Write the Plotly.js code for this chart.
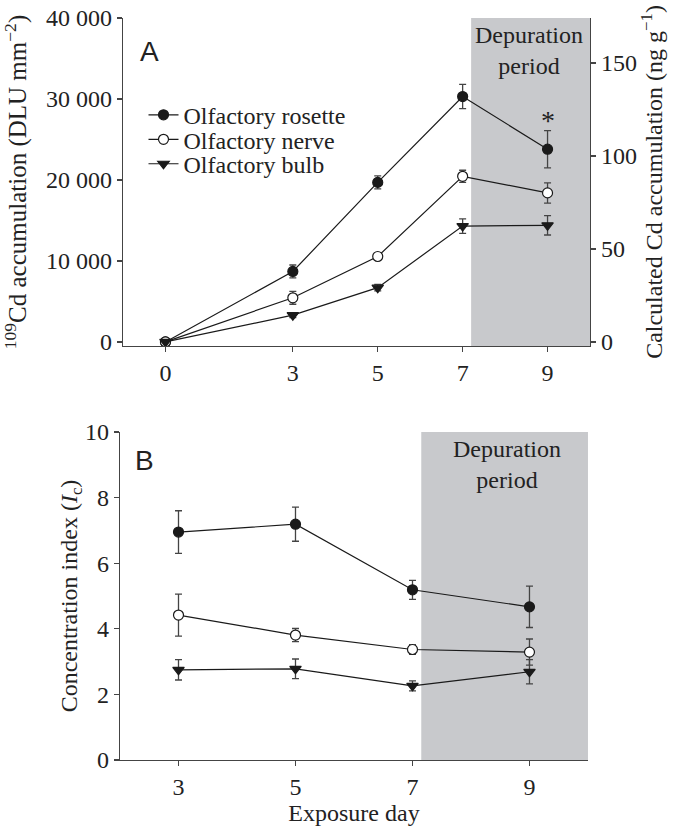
<!DOCTYPE html>
<html>
<head>
<meta charset="utf-8">
<script src="https://cdn.plot.ly/plotly-3.0.1.min.js"></script>
<style>html,body{margin:0;padding:0;background:#fff;}#chart{width:676px;height:826px;}</style>
</head>
<body>
<div id="chart"></div>
<script>
// ---- Panel A data (DLU mm^-2) ----
const daysA = [0, 3, 5, 7, 9];
const rosetteA = [0, 8700, 19700, 30300, 23800];
const rosetteAErr = [0, 800, 800, 1500, 2300];
const nerveA = [0, 5450, 10550, 20450, 18400];
const nerveAErr = [0, 800, 300, 750, 1250];
const bulbA = [0, 3300, 6700, 14300, 14400];
const bulbAErr = [0, 300, 400, 900, 1200];

// ---- Panel B data (concentration index) ----
const daysB = [3, 5, 7, 9];
const rosetteB = [6.95, 7.19, 5.19, 4.67];
const rosetteBErr = [0.65, 0.52, 0.29, 0.63];
const nerveB = [4.42, 3.81, 3.37, 3.29];
const nerveBErr = [0.64, 0.2, 0.15, 0.4];
const bulbB = [2.75, 2.78, 2.26, 2.69];
const bulbBErr = [0.31, 0.3, 0.15, 0.37];

const seriesNames = ['Olfactory rosette', 'Olfactory nerve', 'Olfactory bulb'];
const tickValsA = [0, 10000, 20000, 30000, 40000];
const tickTextA = ['0', '10 000', '20 000', '30 000', '40 000'];
const tickValsRight = [0, 50, 100, 150];
const tickValsB = [0, 2, 4, 6, 8, 10];
const DLU_PER_NG = 229.6; // scale between left and right axes of panel A

const FONT = 'Liberation Serif, Times New Roman, serif';
const SANS = 'Liberation Sans, Arial, sans-serif';
const TXT = '#222';
const LINE = '#1a1a1a';
const ERR = '#444';
const SHADE = 'rgb(200,201,204)';
const FS = 24;

function mk(x, y, err, name, sym, fill, xa, ya, leg) {
  const t = {
    x: x, y: y, name: name, type: 'scatter', mode: 'lines+markers',
    xaxis: xa, yaxis: ya, showlegend: !!leg,
    line: {color: LINE, width: 1.2},
    marker: {symbol: sym, size: 10, color: fill, line: {color: LINE, width: 1.2}},
    error_y: {type: 'data', array: err, visible: true, color: ERR, thickness: 1.3, width: 3.5}
  };
  if (leg) t.legend = leg;
  return t;
}

const data = [
  mk(daysA, rosetteA, rosetteAErr, seriesNames[0], 'circle', LINE, 'x', 'y', 'legend'),
  mk(daysA, nerveA, nerveAErr, seriesNames[1], 'circle', '#fff', 'x', 'y', 'legend2'),
  mk(daysA, bulbA, bulbAErr, seriesNames[2], 'triangle-down', LINE, 'x', 'y', 'legend3'),
  // transparent helper so the right-hand axis (ng g^-1) is drawn
  {x: daysA, y: rosetteA.map(v => v / DLU_PER_NG), type: 'scatter', mode: 'markers', xaxis: 'x', yaxis: 'y3',
   showlegend: false, hoverinfo: 'skip', marker: {opacity: 0, size: 1}},
  mk(daysB, rosetteB, rosetteBErr, seriesNames[0], 'circle', LINE, 'x2', 'y2', null),
  mk(daysB, nerveB, nerveBErr, seriesNames[1], 'circle', '#fff', 'x2', 'y2', null),
  mk(daysB, bulbB, bulbBErr, seriesNames[2], 'triangle-down', LINE, 'x2', 'y2', null)
];

const axCommon = {
  showgrid: false, zeroline: false, showline: true, linecolor: '#444', linewidth: 1.2,
  ticks: 'outside', ticklen: 5, tickwidth: 1.2, tickcolor: '#444',
  tickfont: {family: FONT, size: FS, color: TXT}
};
const titleFont = {family: FONT, size: FS, color: TXT};
const legFont = {family: FONT, size: FS, color: TXT};
function leg(y) {
  return {x: 0.05, y: y, xanchor: 'left', yanchor: 'middle', bgcolor: 'rgba(0,0,0,0)', font: legFont, itemwidth: 30};
}

const layout = {
  width: 676, height: 826,
  margin: {l: 120, r: 86, t: 18, b: 66},
  paper_bgcolor: '#fff', plot_bgcolor: 'rgba(0,0,0,0)',
  font: {family: FONT, color: TXT},
  showlegend: true,
  legend: leg(0.869),
  legend2: leg(0.836),
  legend3: leg(0.803),
  xaxis: Object.assign({}, axCommon, {domain: [0.0064, 1], anchor: 'y', range: [-1, 10],
          tickvals: daysA, ticktext: daysA.map(String)}),
  yaxis: Object.assign({}, axCommon, {domain: [0.558, 1], anchor: 'x', range: [-500, 40000],
          tickvals: tickValsA, ticktext: tickTextA,
          title: {text: '<sup>109</sup>Cd accumulation (DLU mm<sup>−2</sup>)', font: {family: FONT, size: 25, color: TXT}, standoff: 16}}),
  yaxis3: Object.assign({}, axCommon, {overlaying: 'y', side: 'right', anchor: 'x', range: [-500 / DLU_PER_NG, 40000 / DLU_PER_NG],
          tickvals: tickValsRight, ticktext: tickValsRight.map(String),
          title: {text: 'Calculated Cd accumulation (ng g<sup>−1</sup>)', font: titleFont, standoff: 0}}),
  xaxis2: Object.assign({}, axCommon, {domain: [0, 0.9957], anchor: 'y2', range: [2, 10],
          tickvals: daysB, ticktext: daysB.map(String),
          title: {text: 'Exposure day', font: titleFont, standoff: 0}}),
  yaxis2: Object.assign({}, axCommon, {domain: [0, 0.442], anchor: 'x2', range: [0, 10],
          tickvals: tickValsB, ticktext: tickValsB.map(String),
          title: {text: 'Concentration index (<i>I</i><sub>c</sub>)', font: titleFont, standoff: 0}}),
  shapes: [
    {type: 'rect', xref: 'x', yref: 'y domain', x0: 7.2, x1: 10, y0: 0, y1: 1, fillcolor: SHADE, line: {width: 0}, layer: 'below'},
    {type: 'rect', xref: 'x2', yref: 'y2 domain', x0: 7.15, x1: 10, y0: 0, y1: 1, fillcolor: SHADE, line: {width: 0}, layer: 'below'}
  ],
  annotations: [
    {text: 'A', xref: 'x', yref: 'y', x: -0.38, y: 35900, showarrow: false, xanchor: 'center', yanchor: 'middle',
     font: {family: SANS, size: 28, color: TXT}},
    {text: 'B', xref: 'x2', yref: 'y2', x: 2.42, y: 9.12, showarrow: false, xanchor: 'center', yanchor: 'middle',
     font: {family: SANS, size: 28, color: TXT}},
    {text: 'Depuration<br>period', xref: 'x', yref: 'y', x: 8.57, y: 35950, showarrow: false, xanchor: 'center', yanchor: 'middle',
     font: {family: FONT, size: FS, color: TXT}},
    {text: 'Depuration<br>period', xref: 'x2', yref: 'y2', x: 8.62, y: 9.0, showarrow: false, xanchor: 'center', yanchor: 'middle',
     font: {family: FONT, size: FS, color: TXT}},
    {text: '*', xref: 'x', yref: 'y', x: 9, y: 27400, showarrow: false, xanchor: 'center', yanchor: 'middle',
     font: {family: FONT, size: 28, color: TXT}}
  ]
};

Plotly.newPlot('chart', data, layout, {staticPlot: true, displayModeBar: false});
</script>
</body>
</html>
